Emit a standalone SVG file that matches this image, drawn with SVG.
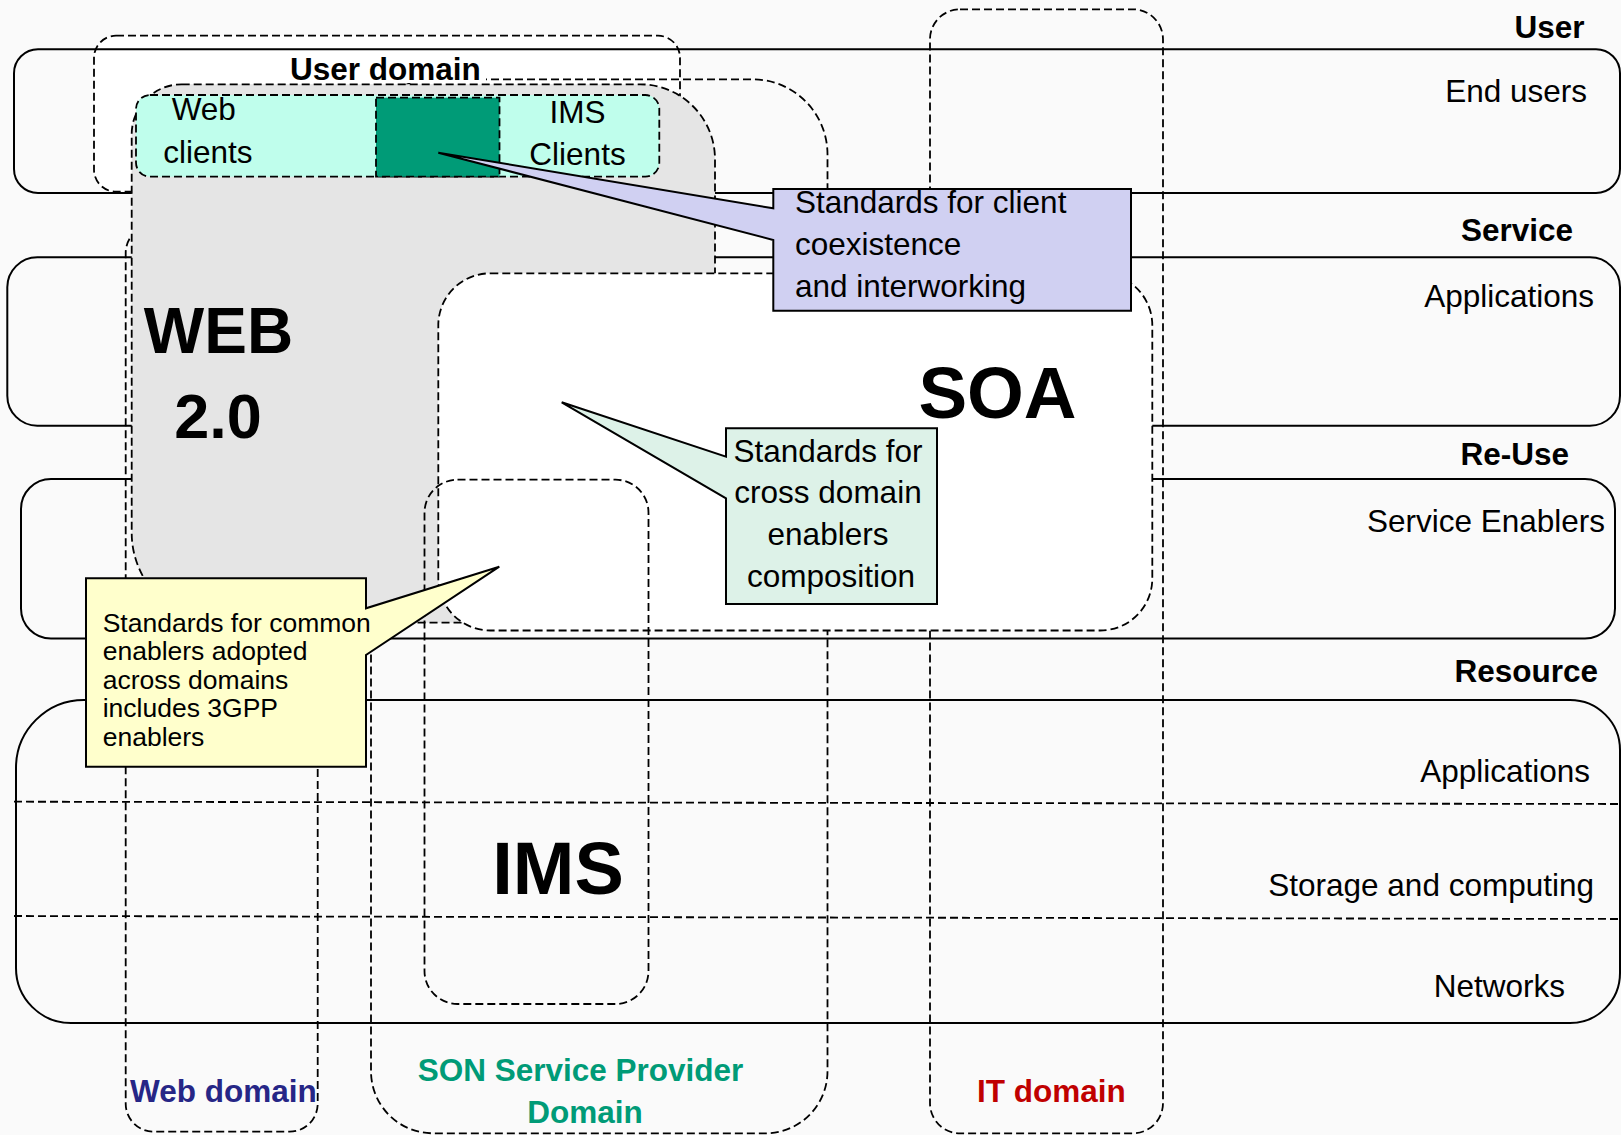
<svg xmlns="http://www.w3.org/2000/svg" width="1621" height="1135" viewBox="0 0 1621 1135">
<style>
.band{fill:none;stroke:#000;stroke-width:2}
.dash{stroke:#000;stroke-width:1.8;stroke-dasharray:8 4}
.nf{fill:none}
.lbl{font-family:"Liberation Sans",Arial,sans-serif;font-size:31.5px;fill:#000}
.b{font-weight:bold}
.call{stroke:#000;stroke-width:2;stroke-linejoin:miter}
.big{font-family:"Liberation Sans",Arial,sans-serif;font-weight:bold;fill:#000}
.yl{font-family:"Liberation Sans",Arial,sans-serif;font-size:26.5px;fill:#000}
</style>
<rect x="0" y="0" width="1621" height="1135" fill="#FAFAFA"/>

<g id="user-domain">
<rect x="94" y="35.7" width="586" height="156" rx="22" style="fill:#FFFFFF" class="dash"/>
</g>

<g id="layer-bands">
<rect id="band-user" x="14" y="49.3" width="1606" height="143.7" rx="24" class="band"/>
<rect id="band-service" x="7.3" y="257.3" width="1612.7" height="168.4" rx="30" class="band"/>
<rect id="band-reuse" x="21" y="479" width="1594" height="159.5" rx="30" class="band"/>
<path id="band-resource" class="band" d="M84,700 H1570 A50,50 0 0 1 1620,750 V973 A50,50 0 0 1 1570,1023 H71 A55,55 0 0 1 16,968 V768 A68,68 0 0 1 84,700 Z"/>
<line x1="14" y1="801.7" x2="1621" y2="804" class="dash"/>
<line x1="14" y1="916" x2="1621" y2="919" class="dash"/>
</g>

<g id="son-domain">
<path class="dash nf" d="M431,79.3 H752.5 A75,75 0 0 1 827.5,154.3 V1071.3 A62,62 0 0 1 765.5,1133.3 H433 A62,62 0 0 1 371,1071.3 V139.3 A60,60 0 0 1 431,79.3 Z"/>
</g>
<g id="it-domain">
<rect x="930" y="9.3" width="233" height="1124" rx="30" class="dash nf"/>
</g>
<g id="web-domain">
<rect x="125.7" y="225" width="192" height="906.7" rx="28" class="dash nf"/>
</g>

<g id="user-domain-label">
<rect x="286" y="55" width="200" height="28" style="fill:#FFFFFF"/>
<text x="290" y="80" class="lbl b">User domain</text>
</g>

<g id="web20">
<path d="M181.7,84.3 H640 A75,75 0 0 1 715,159.3 V602.7 A20,20 0 0 1 695,622.7 H221.7 A90,90 0 0 1 131.7,532.7 V134.3 A50,50 0 0 1 181.7,84.3 Z" style="fill:#E5E5E5" class="dash"/>
<text x="218.5" y="353" text-anchor="middle" class="big" font-size="64">WEB</text>
<text x="218" y="438" text-anchor="middle" class="big" font-size="63">2.0</text>
</g>

<g id="soa">
<rect x="438.3" y="273.3" width="714" height="357.2" rx="52" style="fill:#FFFFFF" class="dash"/>
<text x="997.5" y="418" text-anchor="middle" class="big" font-size="73">SOA</text>
</g>

<g id="ims">
<rect x="424.5" y="479.7" width="224" height="524.3" rx="33" class="dash nf"/>
<text x="558" y="894" text-anchor="middle" class="big" font-size="74">IMS</text>
</g>

<g id="clients">
<rect x="136" y="95" width="523.3" height="81.7" rx="14" style="fill:#BFFEEC" class="dash"/>
<rect x="376" y="97.7" width="123.5" height="79" style="fill:#009B77" class="dash"/>
<text x="171.7" y="120" class="lbl">Web</text>
<text x="163.3" y="163.3" class="lbl">clients</text>
<text x="577.5" y="123.3" text-anchor="middle" class="lbl">IMS</text>
<text x="577.5" y="165" text-anchor="middle" class="lbl">Clients</text>
</g>

<g id="callout-client">
<path class="call" fill="#D0D0F2" d="M773.3,189 H1131 V310.7 H773.3 V240 L438.3,152.7 L773.3,208.3 Z"/>
<text x="795" y="213.3" class="lbl">Standards for client</text>
<text x="795" y="255" class="lbl">coexistence</text>
<text x="795" y="296.7" class="lbl">and interworking</text>
</g>

<g id="callout-cross">
<path class="call" fill="#DDF2E8" d="M726,428.3 H937 V604 H726 V498.3 L561.7,402.3 L726,456.7 Z"/>
<text x="828" y="461.7" text-anchor="middle" class="lbl">Standards for</text>
<text x="828" y="503.3" text-anchor="middle" class="lbl">cross domain</text>
<text x="828" y="545" text-anchor="middle" class="lbl">enablers</text>
<text x="831" y="587" text-anchor="middle" class="lbl">composition</text>
</g>

<g id="callout-common">
<path class="call" fill="#FFFFCC" d="M86,578.3 H366 V608.3 L499.3,566.7 L366,655 V766.7 H86 Z"/>
<text x="102.7" y="631.7" class="yl">Standards for common</text>
<text x="102.7" y="660" class="yl">enablers adopted</text>
<text x="102.7" y="688.5" class="yl">across domains</text>
<text x="102.7" y="717.2" class="yl">includes 3GPP</text>
<text x="102.7" y="746" class="yl">enablers</text>
</g>

<g id="layer-labels">
<text x="1584.5" y="38" text-anchor="end" class="lbl b">User</text>
<text x="1587" y="102" text-anchor="end" class="lbl">End users</text>
<text x="1573" y="241" text-anchor="end" class="lbl b">Service</text>
<text x="1594" y="307" text-anchor="end" class="lbl">Applications</text>
<text x="1569" y="465" text-anchor="end" class="lbl b">Re-Use</text>
<text x="1605" y="532" text-anchor="end" class="lbl">Service Enablers</text>
<text x="1598" y="682" text-anchor="end" class="lbl b">Resource</text>
<text x="1590" y="781.5" text-anchor="end" class="lbl">Applications</text>
<text x="1594" y="896" text-anchor="end" class="lbl">Storage and computing</text>
<text x="1565" y="997" text-anchor="end" class="lbl">Networks</text>
</g>

<g id="domain-labels">
<text x="130" y="1101.7" class="lbl b" style="fill:#262686">Web domain</text>
<text x="580.5" y="1080.7" text-anchor="middle" class="lbl b" style="fill:#009B77">SON Service Provider</text>
<text x="585" y="1122.7" text-anchor="middle" class="lbl b" style="fill:#009B77">Domain</text>
<text x="977" y="1101.7" class="lbl b" style="fill:#C00000">IT domain</text>
</g>
</svg>
